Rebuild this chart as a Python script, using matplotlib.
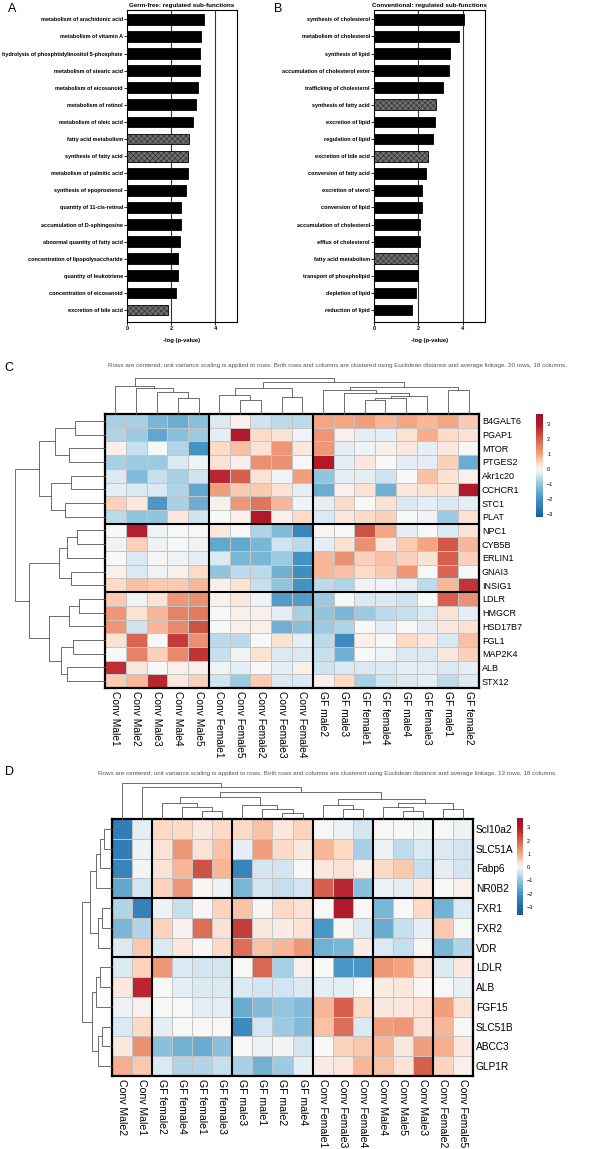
import matplotlib.pyplot as plt
import numpy as np
from matplotlib.colors import LinearSegmentedColormap, Normalize

W, H = 602, 1149
plt.rcParams["font.family"] = ["Liberation Sans", "DejaVu Sans"]
plt.rcParams["hatch.linewidth"] = 0.25

# ---------------- panel A / B : IPA sub-functions ----------------
gf_terms = ["metabolism of arachidonic acid", "metabolism of vitamin A",
            "hydrolysis of phosphtidylinositol 5-phosphate", "metabolism of stearic acid",
            "metabolism of eicosanoid", "metabolism of retinol", "metabolism of oleic acid",
            "fatty acid metabolism", "synthesis of fatty acid", "metabolism of palmitic acid",
            "synthesis of epoprostenol", "quantity of 11-cis-retinal",
            "accumulation of D-sphingosine", "abnormal quantity of fatty acid",
            "concentration of lipopolysaccharide", "quantity of leukotriene",
            "concentration of eicosanoid", "excretion of bile acid"]
gf_vals = [3.48, 3.36, 3.30, 3.30, 3.21, 3.12, 3.00, 2.82, 2.79, 2.77,
           2.67, 2.45, 2.45, 2.42, 2.33, 2.33, 2.24, 1.86]

conv_terms = ["synthesis of cholesterol", "metabolism of cholesterol", "synthesis of lipid",
              "accumulation of cholesterol ester", "trafficking of cholesterol",
              "synthesis of fatty acid", "excretion of lipid", "regulation of lipid",
              "excretion of bile acid", "conversion of fatty acid", "excretion of sterol",
              "conversion of lipid", "accumulation of cholesterol", "efflux of cholesterol",
              "fatty acid metabolism", "transport of phospholipid", "depletion of lipid",
              "reduction of lipid"]
conv_vals = [4.07, 3.82, 3.42, 3.39, 3.13, 2.81, 2.73, 2.66, 2.43, 2.33,
             2.16, 2.16, 2.07, 2.07, 2.00, 1.96, 1.88, 1.72]

shared_terms = ["fatty acid metabolism", "synthesis of fatty acid", "excretion of bile acid"]

# ---------------- panel C heatmap ----------------
c_rows = ["B4GALT6", "PGAP1", "MTOR", "PTGES2", "Akr1c20", "CCHCR1", "STC1", "PLAT",
          "NPC1", "CYB5B", "ERLIN1", "GNAI3", "INSIG1",
          "LDLR", "HMGCR", "HSD17B7", "FGL1", "MAP2K4", "ALB", "STX12"]
c_cols = ["Conv Male1", "Conv Male2", "Conv Male3", "Conv Male4", "Conv Male5",
          "Conv Female1", "Conv Female5", "Conv Female2", "Conv Female3", "Conv Female4",
          "GF male2", "GF male3", "GF female1", "GF female4", "GF male4", "GF female3",
          "GF male1", "GF female2"]
c_vals = np.array([
    [-0.8, -0.8, -1.3, -1.5, -1.1, -0.3, 0.1, -0.4, -0.6, -0.6, 1.0, 1.0, 1.1, 0.8, 1.0, 0.8, 1.0, 0.6],
    [-0.7, -0.9, -1.6, -1.1, -0.9, -0.2, 3.0, 0.4, 0.3, -0.1, 1.2, 0.1, -0.2, -0.2, 0.3, 0.9, 0.4, 0.3],
    [0.1, -0.5, 0.0, -0.7, -2.0, 0.4, 0.7, 0.3, 1.2, 0.2, 1.2, -0.2, -0.1, 0.1, 0.2, -0.2, 0.2, 0.0],
    [-0.8, -0.9, -0.9, -0.3, -0.1, 0.3, 0.1, 1.3, 1.3, 0.0, 3.0, -0.2, 0.2, 0.0, -0.2, -0.2, 0.5, -1.5],
    [-0.3, -1.2, -0.5, -0.8, -0.4, 2.8, 2.0, 0.3, -0.1, 1.1, -1.0, -0.2, -0.2, -0.4, 0.0, 0.7, 0.3, 0.1],
    [-0.2, -0.3, -0.3, -0.7, -1.6, 1.1, 0.6, 0.6, 0.3, -0.2, -1.5, 0.1, 0.3, -1.4, 0.2, 0.3, 0.3, 3.0],
    [0.5, 0.2, -1.9, -0.8, -1.5, 0.1, 1.2, 1.7, 0.8, -0.1, -0.2, 0.4, 0.0, 0.3, -0.3, -0.2, -0.3, -0.2],
    [-0.6, -1.0, -1.0, 0.2, -0.4, 0.0, 0.1, 3.0, 0.1, 0.4, -0.3, 0.2, 0.4, 0.5, 0.0, -0.1, -0.9, 0.3],
    [0.0, 2.9, -0.1, 0.0, 0.0, 0.2, 0.0, -0.7, -1.2, -2.3, 0.05, 0.0, 2.2, 1.0, -0.2, 0.0, -0.3, 0.3],
    [-0.1, 0.5, -0.1, 0.0, -0.1, -1.6, -1.6, -1.3, -0.4, -0.6, -0.2, 0.3, 1.3, 0.2, 0.6, 1.0, 2.1, 0.8],
    [0.0, -0.3, 0.05, -0.1, -0.2, -0.3, -1.3, -1.3, -0.9, -2.0, 0.8, 1.3, 0.5, 0.7, 0.5, 0.3, 2.0, 0.5],
    [0.1, -0.3, -0.1, 0.1, 0.4, -1.0, -0.6, -0.6, -1.4, -2.1, 0.8, 0.7, 0.4, 0.6, 1.2, 0.0, 1.9, 0.0],
    [0.4, 0.7, 0.6, 0.6, 0.8, 0.1, 0.3, -0.5, -1.0, -2.0, -0.6, -0.7, -0.1, -0.1, -0.2, -0.6, 0.8, 2.6],
    [0.6, -0.1, 0.3, 1.2, 1.3, 0.1, 0.2, -0.1, -1.8, -1.8, -0.9, 0.0, -0.3, -0.3, -0.4, 0.0, 2.0, 1.3],
    [1.2, 0.3, 0.8, 1.5, 1.6, 0.0, 0.1, 0.1, -0.2, -0.8, -1.0, -1.3, -0.9, -0.6, -0.5, -0.3, 0.3, -0.2],
    [1.2, -0.4, 0.8, 1.4, 2.2, 0.0, 0.1, 0.1, -1.4, -1.1, -0.9, -0.7, 0.0, -0.2, 0.0, -0.2, 0.2, 0.3],
    [0.3, 1.9, 0.0, 2.5, 1.3, -0.6, -0.6, 0.0, 0.3, -0.2, -0.6, -2.2, 0.1, 0.0, 0.4, 0.2, -0.3, 0.7],
    [0.0, 1.5, 0.5, 1.4, 2.6, -0.5, -0.1, 0.3, -0.3, -0.3, -0.5, -1.4, 0.0, -0.1, -0.3, -0.3, 0.2, 0.5],
    [2.7, 0.2, 0.0, 0.1, 0.1, -0.1, -0.2, 0.0, -0.2, 0.1, -0.4, -0.3, -0.3, -0.3, -0.2, -0.2, -0.3, -0.2],
    [0.6, 0.8, 2.8, 0.2, 0.5, -0.4, -0.9, 0.6, -0.3, -0.3, 0.1, 0.4, -0.8, -0.4, -0.3, -0.2, -0.6, -0.3],
])
c_row_splits = [8, 13]
c_col_splits = [5, 10]
# dendrograms: (left, right, merge height in px from heatmap edge)
c_col_tree = ((0, (1, (2, (3, 4, 16), 22), 26), 28),
              (((5, (6, 7, 14), 19), (8, 9, 17), 26),
               ((10, (11, (((12, 13, 14), 14, 16), 15, 18), 21), 24), (16, 17, 24), 27), 32.3),
              36.3)
c_row_tree = ((((0, 1, 30), (2, 3, 36), 50), ((4, 5, 34), (6, 7, 40), 54), 66),
              ((((8, 9, 28), 10, 38), (11, 12, 34), 46),
               (((13, 14, 26), 15, 36), ((16, 17, 32), (18, 19, 38), 44), 56), 76), 90)

# ---------------- panel D heatmap ----------------
d_rows = ["Scl10a2", "SLC51A", "Fabp6", "NR0B2", "FXR1", "FXR2", "VDR",
          "LDLR", "ALB", "FGF15", "SLC51B", "ABCC3", "GLP1R"]
d_cols = ["Conv Male2", "Conv Male1", "GF female2", "GF female4", "GF female1", "GF female3",
          "GF male3", "GF male1", "GF male2", "GF male4", "Conv Female1", "Conv Female3",
          "Conv Female4", "Conv Male4", "Conv Male5", "Conv Male3", "Conv Female2",
          "Conv Female5"]
d_vals = np.array([
    [-2.5, -0.2, 0.4, 0.4, 0.2, 0.4, 0.4, 0.7, 0.2, 0.5, 0.0, -0.1, -0.4, 0.0, 0.0, -0.05, 0.0, -0.1],
    [-2.5, -0.1, 0.3, 1.2, 0.3, 0.7, -0.2, 1.1, 0.4, 0.2, 0.8, 0.4, -0.8, -0.1, -0.6, -0.3, -0.3, -0.4],
    [-2.3, -0.05, 0.3, 0.8, 2.2, 0.8, -2.3, -0.4, -0.4, 0.0, 0.2, 0.3, 0.1, 0.4, 0.6, -0.5, -0.2, -0.4],
    [-1.6, -0.4, 0.5, 1.2, 0.05, -0.1, -1.3, -0.4, -0.5, -0.4, 2.0, 2.8, -1.1, -0.1, -0.2, 0.2, 0.0, 0.1],
    [-0.7, -2.4, -0.1, -0.5, 0.05, 0.5, 0.7, 0.05, 0.4, 0.3, 0.0, 3.0, 0.0, -1.3, 0.0, 0.4, -1.4, -0.3],
    [-1.3, -0.7, 0.5, 0.1, 1.8, 0.3, 2.5, 0.2, 0.15, 0.3, -1.9, 0.05, -0.3, -1.5, -0.5, -0.2, 0.6, 0.0],
    [-0.3, 0.6, -0.3, 0.2, 0.05, 0.4, 1.8, 0.7, 0.8, 1.2, -1.4, -1.3, 0.15, -0.3, -0.5, 0.05, -1.3, -0.7],
    [-0.3, 0.5, 1.2, -0.3, -0.4, -0.4, 0.0, 1.9, -0.8, 0.1, 0.0, -1.9, -1.9, 1.2, 1.0, 0.3, -0.3, 0.2],
    [0.2, 2.8, 0.0, -0.2, -0.3, -0.3, -0.3, -0.4, -0.4, -0.3, -0.2, -0.2, 0.0, 0.15, 0.2, 0.05, 0.0, -0.15],
    [-0.1, 0.1, 0.0, 0.0, -0.2, -0.2, -1.5, -1.2, -1.0, -1.2, 0.8, 2.0, 0.4, 0.2, 0.2, 0.3, 1.1, 0.3],
    [-0.3, 0.4, -0.2, 0.0, 0.0, 0.0, -2.2, -0.4, -0.9, -1.2, 0.7, 1.8, -0.3, 1.1, 1.2, 0.3, 0.8, 0.0],
    [0.2, 1.3, -1.1, -1.4, -1.5, -1.1, 0.0, -0.1, -0.05, -0.4, 0.0, 0.5, 0.6, 0.8, 0.2, 1.1, 0.9, 0.2],
    [0.9, 0.6, -0.3, -0.7, -0.7, -0.5, -0.8, -1.4, -0.9, -0.2, 0.15, 0.2, 0.8, 0.7, 0.25, 2.0, 0.5, 0.1],
])
d_row_splits = [4, 7]
d_col_splits = [2, 6, 10, 13, 16]
d_col_tree = (0, (1, (((2, (3, (4, 5, 8), 12), 16), (6, (7, (8, 9, 6), 10), 14), 22),
                      ((10, (11, 12, 10), 14), ((13, (14, 15, 8), 12), (16, 17, 10), 16), 20), 27),
                  32), 36)
d_row_tree = (((((0, 1, 8), 2, 12), 3, 16), ((4, 5, 10), 6, 14), 22),
              (((7, 8, 12), 9, 16), ((10, 11, 10), 12, 14), 20), 30)

# colour key of the reference (value -> colour)
key_vals = [-3.8, -3, -2, -1, -0.4, 0, 0.4, 1, 2, 3, 3.8]
key_cols = ["#1B5A9A", "#2166AC", "#4393C3", "#92C5DE", "#D1E5F0", "#F7F7F7",
            "#FDDBC7", "#F4A582", "#D6604D", "#B2182B", "#A0102A"]


def make_cmap(vmin, vmax):
    stops = [((v - vmin) / (vmax - vmin), c) for v, c in zip(key_vals, key_cols)]
    stops = [(min(max(p, 0), 1), c) for p, c in stops]
    clean = []
    for p, c in stops:
        if clean and p <= clean[-1][0]:
            if p == 0:
                clean[-1] = (0.0, c)
            continue
        clean.append((p, c))
    if clean[-1][0] < 1:
        clean.append((1.0, key_cols[-1]))
    return LinearSegmentedColormap.from_list("key", clean, N=256)


fig = plt.figure(figsize=(W / 100, H / 100), dpi=100)


def box(l, t, r, b):
    return [l / W, 1 - b / H, (r - l) / W, (b - t) / H]


def bar_panel(rect, terms, vals, title):
    ax = fig.add_axes(box(*rect))
    y = np.arange(len(terms))
    for yi, term, v in zip(y, terms, vals):
        shared = term in shared_terms
        ax.barh(yi, v, height=0.63, color="#6e6e6e" if shared else "black",
                edgecolor="black", linewidth=0.6, hatch="xxxxxx" if shared else None,
                zorder=3)
    for gx in (2, 4):
        ax.axvline(gx, color="#333333", lw=0.8, zorder=1)
    ax.set_xlim(0, 5)
    ax.set_ylim(len(terms) - 0.3, -0.55)
    ax.set_yticks(y)
    ax.set_yticklabels(terms, fontsize=4, fontweight="bold")
    ax.set_xticks([0, 2, 4])
    ax.set_xticklabels(["0", "2", "4"], fontsize=4, fontweight="bold")
    ax.tick_params(length=2, width=0.6, pad=1)
    ax.set_xlabel("-log (p-value)", fontsize=4.2, fontweight="bold", labelpad=5)
    ax.set_title(title, fontsize=4.5, fontweight="bold", pad=2)
    for s in ax.spines.values():
        s.set_linewidth(0.8)


def draw_tree(ax, node, sideways):
    if isinstance(node, int):
        return node + 0.5, 0.0
    a, b, h = node
    xa, ha = draw_tree(ax, a, sideways)
    xb, hb = draw_tree(ax, b, sideways)
    xs, ys = [xa, xa, xb, xb], [ha, h, h, hb]
    if sideways:
        ax.plot(ys, xs, color="#555555", lw=0.6, clip_on=False)
    else:
        ax.plot(xs, ys, color="#555555", lw=0.6, clip_on=False)
    return (xa + xb) / 2, h


def heat_panel(hm, top_h, left_w, cb, vals, rows, cols, rsplit, csplit,
               rtree, ctree, vlim, rfs, cfs):
    l, t, r, b = hm
    nr, nc = vals.shape
    ax = fig.add_axes(box(l, t, r, b))
    im = ax.pcolormesh(vals, cmap=make_cmap(*vlim), norm=Normalize(*vlim),
                       edgecolors="#c4c4c4", linewidth=0.5)
    ax.set_xlim(0, nc)
    ax.set_ylim(nr, 0)
    for s in csplit:
        ax.axvline(s, color="black", lw=1.5)
    for s in rsplit:
        ax.axhline(s, color="black", lw=1.5)
    for sp in ax.spines.values():
        sp.set_linewidth(1.6)
    ax.yaxis.tick_right()
    ax.set_yticks(np.arange(nr) + 0.5)
    ax.set_yticklabels(rows, fontsize=rfs)
    ax.set_xticks(np.arange(nc) + 0.5)
    ax.set_xticklabels(cols, fontsize=cfs, rotation=270, va="top")
    ax.tick_params(length=0, pad=2)

    axt = fig.add_axes(box(l, t - top_h, r, t))
    draw_tree(axt, ctree, False)
    axt.set_xlim(0, nc)
    axt.set_ylim(0, top_h)
    axt.axis("off")

    axl = fig.add_axes(box(l - left_w, t, l, b))
    draw_tree(axl, rtree, True)
    axl.set_ylim(nr, 0)
    axl.set_xlim(left_w, 0)
    axl.axis("off")

    cax = fig.add_axes(box(*cb))
    cbar = fig.colorbar(im, cax=cax, ticks=[-3, -2, -1, 0, 1, 2, 3])
    cbar.outline.set_visible(False)
    cax.tick_params(length=0, labelsize=4, pad=3)


bar_panel((127, 10, 237, 322), gf_terms, gf_vals, "Germ-free: regulated sub-functions")
bar_panel((374, 10, 485, 322), conv_terms, conv_vals, "Conventional: regulated sub-functions")

note = ("Rows are centered; unit variance scaling is applied to rows. Both rows and columns "
        "are clustered using Euclidean distance and average linkage. {} rows, 18 columns.")

heat_panel((105, 414, 479, 688), 36.3, 90, (536, 414, 543, 517), c_vals, c_rows, c_cols,
           c_row_splits, c_col_splits, c_row_tree, c_col_tree, (-3.2, 3.7), 6.5, 7.4)
heat_panel((112, 819, 473, 1076), 36, 37, (517, 818, 523, 915), d_vals, d_rows, d_cols,
           d_row_splits, d_col_splits, d_row_tree, d_col_tree, (-3.6, 3.7), 7.3, 7.6)

fig.text(337 / W, 1 - 365 / H, note.format(20), fontsize=4.5, color="#555555",
         ha="center", va="center")
fig.text(327 / W, 1 - 773 / H, note.format(13), fontsize=4.5, color="#555555",
         ha="center", va="center")

for letter, x, y in [("A", 12, 9), ("B", 278, 9), ("C", 9, 368), ("D", 9, 772)]:
    fig.text(x / W, 1 - y / H, letter, fontsize=9, ha="center", va="center")

fig.savefig("out.png", dpi=100)
